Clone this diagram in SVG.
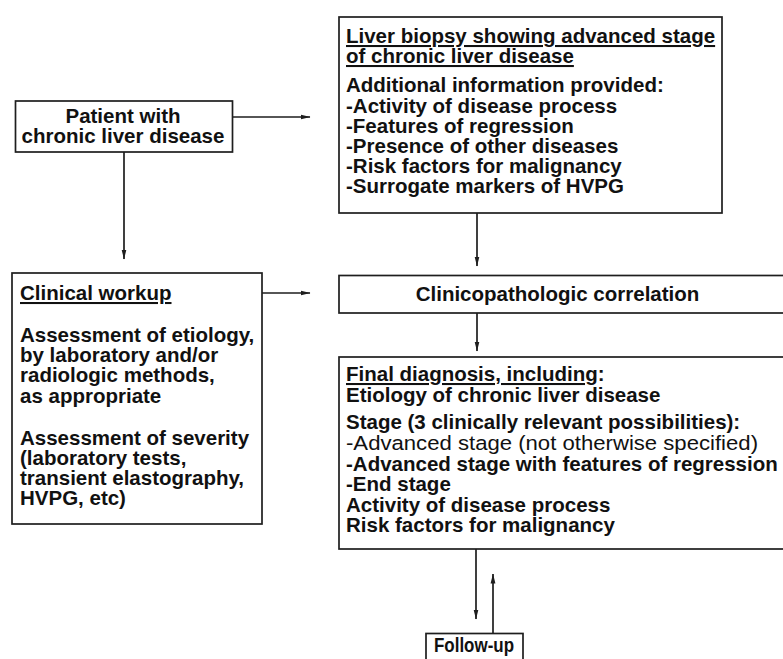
<svg xmlns="http://www.w3.org/2000/svg" width="783" height="659" viewBox="0 0 783 659">
<defs>
<style>
.box{fill:#fff;stroke:#1e1e1e;stroke-width:1.7}
.t{font-family:"Liberation Sans",Arial,Helvetica,sans-serif;font-size:20.5px;font-weight:bold;fill:#111}
.r{font-weight:normal}
.u{text-decoration:underline}
.c{text-anchor:middle}
.ln{fill:none;stroke:#1e1e1e;stroke-width:1.7}
</style>
<marker id="ah" viewBox="0 0 10 6" refX="9.5" refY="3" markerWidth="10" markerHeight="6" markerUnits="userSpaceOnUse" orient="auto">
<path d="M0,0.6 L10,3 L0,5.4 z" fill="#1e1e1e"/>
</marker>
</defs>
<rect width="783" height="659" fill="#fff"/>

<g id="connectors">
<line class="ln" x1="233" y1="117" x2="310" y2="117" marker-end="url(#ah)"/>
<line class="ln" x1="124" y1="152" x2="124" y2="259" marker-end="url(#ah)"/>
<line class="ln" x1="262" y1="293" x2="310" y2="293" marker-end="url(#ah)"/>
<line class="ln" x1="477" y1="213" x2="477" y2="266" marker-end="url(#ah)"/>
<line class="ln" x1="477" y1="313" x2="477" y2="351" marker-end="url(#ah)"/>
<line class="ln" x1="476" y1="549" x2="476" y2="619" marker-end="url(#ah)"/>
<line class="ln" x1="493" y1="633" x2="493" y2="574" marker-end="url(#ah)"/>
</g>

<g id="patient">
<rect class="box" x="15.5" y="101" width="217" height="51"/>
<text class="t c" x="123" y="123">Patient with</text>
<text class="t c" x="123" y="143">chronic liver disease</text>
</g>

<g id="biopsy">
<rect class="box" x="339" y="17" width="383" height="196"/>
<text class="t" x="346" y="43"><tspan class="u">Liver biopsy showing advanced stage</tspan></text>
<text class="t" x="346" y="63"><tspan class="u">of chronic liver disease</tspan></text>
<text class="t" x="346" y="92">Additional information provided:</text>
<text class="t" x="346" y="112.5">-Activity of disease process</text>
<text class="t" x="346" y="132.5">-Features of regression</text>
<text class="t" x="346" y="153">-Presence of other diseases</text>
<text class="t" x="346" y="173">-Risk factors for malignancy</text>
<text class="t" x="346" y="193">-Surrogate markers of HVPG</text>
</g>

<g id="workup">
<rect class="box" x="12" y="273" width="250" height="251"/>
<text class="t" x="20" y="300"><tspan class="u">Clinical workup</tspan></text>
<text class="t" x="20" y="341.5">Assessment of etiology,</text>
<text class="t" x="20" y="361.5">by laboratory and/or</text>
<text class="t" x="20" y="382">radiologic methods,</text>
<text class="t" x="20" y="402.5">as appropriate</text>
<text class="t" x="20" y="445">Assessment of severity</text>
<text class="t" x="20" y="465">(laboratory tests,</text>
<text class="t" x="20" y="485">transient elastography,</text>
<text class="t" x="20" y="505">HVPG, etc)</text>
</g>

<g id="correlation">
<rect class="box" x="339" y="275.5" width="460" height="37.5"/>
<text class="t c" x="557.5" y="301">Clinicopathologic correlation</text>
</g>

<g id="final">
<rect class="box" x="339" y="357" width="460" height="192"/>
<text class="t" x="346" y="381"><tspan class="u">Final diagnosis, including</tspan>:</text>
<text class="t" x="346" y="401.5">Etiology of chronic liver disease</text>
<text class="t" x="346" y="429">Stage (3 clinically relevant possibilities):</text>
<text class="t r" x="346" y="450" textLength="412" lengthAdjust="spacingAndGlyphs">-Advanced stage (not otherwise specified)</text>
<text class="t" x="346" y="470.5">-Advanced stage with features of regression</text>
<text class="t" x="346" y="491">-End stage</text>
<text class="t" x="346" y="512">Activity of disease process</text>
<text class="t" x="346" y="532">Risk factors for malignancy</text>
</g>

<g id="followup">
<rect class="box" x="426" y="633.5" width="97" height="40"/>
<text class="t" x="434" y="652" textLength="80" lengthAdjust="spacingAndGlyphs">Follow-up</text>
</g>
</svg>
